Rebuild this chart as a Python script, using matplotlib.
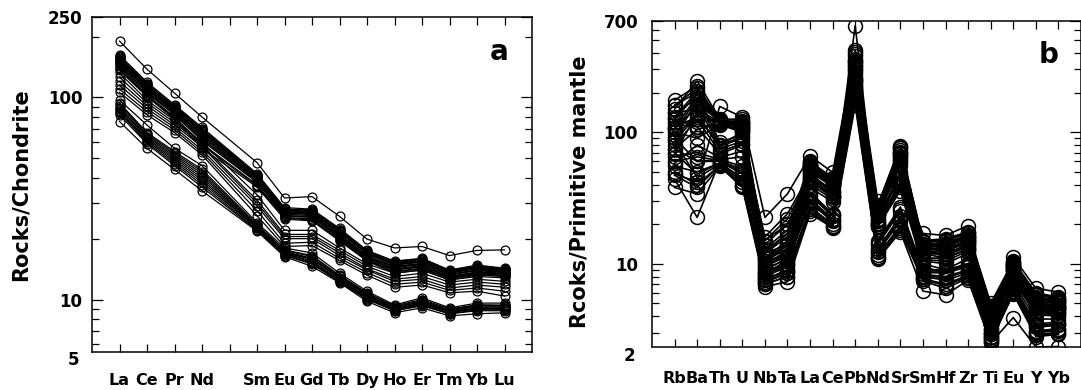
"""
REE chondrite-normalised (a) and trace element primitive-mantle-normalised (b) spider diagrams
"""
import matplotlib
matplotlib.use('Agg')
import matplotlib.pyplot as plt
from matplotlib.ticker import FixedLocator, NullFormatter, LogLocator

plt.rcParams['font.family'] = ['DejaVu Sans']
plt.rcParams['font.weight'] = 'bold'

# ---- panel a : Rocks/Chondrite ----
ree_ticks = ['La', 'Ce', 'Pr', 'Nd', '', 'Sm', 'Eu', 'Gd', 'Tb', 'Dy', 'Ho', 'Er', 'Tm', 'Yb', 'Lu']
ree_elements = ['La', 'Ce', 'Pr', 'Nd', 'Sm', 'Eu', 'Gd', 'Tb', 'Dy', 'Ho', 'Er', 'Tm', 'Yb', 'Lu']

ree_top = [
    [190, 138, 105, 80, 47.6, 31.8, 32.3, 25.8, 19.9, 18.0, 18.3, 16.5, 17.5, 17.6],
]
ree_upper = [
    [162, 119, 92, 71, 42, 28.5, 28, 22.5, 17.5, 15.5, 16, 14, 14.8, 14.3],
    [160, 117, 91, 70, 41.5, 28, 27.8, 22.2, 17.4, 15.4, 15.9, 13.9, 14.7, 14.2],
    [158, 116, 90, 70, 41, 28, 27.5, 22, 17.2, 15.2, 15.8, 13.8, 14.6, 14.2],
    [156, 115, 89, 69, 41, 27.8, 27.2, 22, 17.1, 15.1, 15.6, 13.7, 14.5, 14.1],
    [155, 114, 89, 68, 40.5, 27.5, 27, 21.8, 17, 15, 15.5, 13.6, 14.4, 14.0],
    [153, 113, 88, 68, 40.2, 27.2, 26.9, 21.6, 16.9, 14.9, 15.4, 13.5, 14.3, 13.9],
    [152, 112, 87, 67, 40, 27, 26.8, 21.5, 16.8, 14.8, 15.3, 13.5, 14.2, 13.9],
    [150, 110, 86, 66, 39.5, 27, 26.5, 21, 16.5, 14.6, 15.1, 13.3, 14.0, 13.8],
    [149, 110, 86, 65, 39.2, 26.8, 26.3, 21.2, 16.4, 14.5, 15.0, 13.3, 14.0, 13.7],
    [148, 109, 85, 64, 39, 26.5, 26, 20.8, 16.3, 14.4, 14.9, 13.2, 13.9, 13.6],
    [146, 107, 84, 63, 38.5, 26, 25.8, 20.5, 16.1, 14.2, 14.7, 13.0, 13.7, 13.5],
    [144, 106, 83, 62, 38.2, 26, 25.6, 20.4, 16.0, 14.1, 14.6, 13.0, 13.6, 13.4],
    [143, 105, 82, 61, 38, 25.8, 25.5, 20.2, 15.9, 14.0, 14.5, 12.9, 13.5, 13.4],
    [140, 103, 80, 59, 37, 25.5, 25, 20, 15.7, 13.8, 14.3, 12.8, 13.4, 13.2],
    [138, 102, 79, 58, 36.5, 25.2, 24.8, 19.8, 15.6, 13.7, 14.2, 12.7, 13.3, 13.1],
    [136, 101, 78, 56, 36, 25, 24.5, 19.5, 15.5, 13.5, 14, 12.5, 13.2, 13.0],
]
ree_middle = [
    [132, 97, 77, 60, 33, 22, 22, 18, 15, 13.5, 14, 12.5, 13, 12.8],
    [126, 94, 75, 58, 31, 21, 21, 17.5, 14.6, 13, 13.5, 12.2, 12.6, 12.3],
    [120, 91, 73, 57, 30, 20.5, 20.5, 17, 14.2, 12.6, 13, 11.8, 12.2, 11.9],
    [115, 88, 71, 55, 29, 20, 20, 16.5, 14, 12.3, 12.6, 11.4, 11.8, 11.5],
    [110, 85, 69, 53.5, 27.5, 19, 19.2, 16, 13.6, 11.9, 12.2, 11.1, 11.4, 11.0],
    [106, 82, 67, 52, 26, 18.3, 18.5, 15.6, 13.2, 11.5, 11.8, 10.8, 11.0, 10.4],
]
ree_lower = [
    [97, 73, 56, 46, 24, 18, 17, 13.5, 11, 9.4, 10.2, 9.1, 9.6, 9.6],
    [94, 67, 54, 44, 23.5, 17.6, 16.5, 13.2, 10.8, 9.3, 10.0, 9.0, 9.4, 9.4],
    [93, 66, 53, 43, 23.3, 17.5, 16.3, 13.1, 10.7, 9.2, 9.9, 8.9, 9.4, 9.3],
    [91, 65, 52, 42, 23, 17.3, 16, 13, 10.6, 9.1, 9.8, 8.8, 9.3, 9.3],
    [89, 64, 51, 41, 22.9, 17.1, 15.9, 12.8, 10.5, 9.1, 9.7, 8.8, 9.2, 9.2],
    [88, 63, 50, 40, 22.8, 17, 15.8, 12.7, 10.4, 9.0, 9.6, 8.7, 9.1, 9.1],
    [86, 62, 49, 39, 22.6, 16.9, 15.5, 12.5, 10.3, 8.9, 9.5, 8.7, 9.0, 9.0],
    [85, 61, 48, 38, 22.5, 16.8, 15.3, 12.4, 10.2, 8.9, 9.5, 8.6, 9.0, 9.0],
    [84, 60, 47, 37, 22.2, 16.6, 15.1, 12.3, 10.1, 8.8, 9.4, 8.5, 8.9, 8.9],
    [82, 59, 46, 36, 22, 16.5, 15, 12.2, 10, 8.8, 9.3, 8.5, 8.8, 8.8],
    [76, 56, 44, 34.5, 21.8, 16.3, 14.6, 12.1, 9.8, 8.6, 9.1, 8.3, 8.5, 8.6],
]

# ---- panel b : Rocks/Primitive mantle ----
pm_elements = ['Rb', 'Ba', 'Th', 'U', 'Nb', 'Ta', 'La', 'Ce', 'Pb', 'Nd',
               'Sr', 'Sm', 'Hf', 'Zr', 'Ti', 'Eu', 'Y', 'Yb']

pm_outliers = [
    [48, 42, 157, 130, 22.5, 34, 66, 49.5, 420, 30, 45, 17, 16.4, 19.5, 4.0, 11.2, 6.5, 6.1],
    [110, 130, 80, 100, 15, 20, 45, 33, 646, 20, 40, 11, 11, 13, 3.6, 7.5, 4.2, 4.2],
]
pm_upper = [
    [150, 245, 126, 125, 13, 18, 60, 45, 410, 28, 79, 15, 15.5, 17.5, 5.0, 10.5, 6.0, 5.6],
    [160, 215, 121, 122, 12.5, 17, 59, 44.5, 395, 27.5, 77, 14.8, 15.2, 17.2, 4.8, 10.4, 5.9, 5.5],
    [175, 225, 122, 120, 12, 16, 58, 44, 380, 27, 76, 14.6, 15, 17, 4.7, 10.2, 5.8, 5.4],
    [130, 205, 120, 118, 11, 14, 57, 43, 360, 26.5, 73, 14.2, 14.5, 16.5, 4.4, 10, 5.6, 5.3],
    [125, 195, 119, 117, 10.5, 13, 56.5, 43, 350, 26.2, 71, 14.1, 14.2, 16.2, 4.2, 9.9, 5.5, 5.2],
    [110, 185, 118, 115, 10, 12.5, 56, 42.5, 340, 26, 70, 14, 14, 16, 4.1, 9.8, 5.4, 5.2],
    [105, 175, 120, 113, 9.5, 11.5, 55.5, 42, 330, 25.8, 69, 13.8, 13.8, 15.8, 3.9, 9.7, 5.3, 5.1],
    [95, 165, 121, 112, 9, 11, 55, 42, 320, 25.5, 68, 13.6, 13.5, 15.5, 3.8, 9.6, 5.2, 5.0],
    [140, 150, 119, 110, 8.5, 10, 54, 41, 300, 25, 66, 13.3, 13, 15, 3.5, 9.5, 5.0, 4.9],
    [90, 140, 118, 109, 8.2, 9.8, 53.5, 40.8, 290, 24.8, 65, 13.2, 12.8, 14.8, 3.4, 9.4, 4.9, 4.8],
    [85, 135, 117, 108, 8, 9.5, 53, 40.5, 280, 24.5, 64, 13, 12.5, 14.5, 3.2, 9.3, 4.8, 4.7],
    [120, 120, 123, 105, 7.6, 9, 52, 40, 260, 24, 62, 12.6, 12, 14, 3.0, 9.1, 4.6, 4.6],
    [115, 110, 115, 104, 7.5, 8.8, 51.5, 39.5, 250, 23.8, 60, 12.5, 11.8, 13.8, 2.9, 9.0, 4.5, 4.5],
    [75, 105, 116, 102, 7.3, 8.5, 51, 39, 240, 23.5, 58, 12.3, 11.5, 13.5, 2.8, 9.0, 4.4, 4.4],
    [100, 90, 114, 100, 7, 8, 50, 38.5, 220, 23, 55, 12, 11, 13, 2.7, 8.8, 4.2, 4.3],
]
pm_middle = [
    [160, 200, 84, 95, 16, 24, 48, 36, 350, 22, 50, 12, 14, 16, 4.8, 8.5, 5.0, 4.8],
    [140, 180, 80, 92, 15, 22, 47, 35, 320, 21.5, 48, 11.8, 13, 15, 4.5, 8.4, 4.9, 4.6],
    [105, 160, 78, 90, 14, 20, 46, 34.5, 300, 21, 46, 11.5, 12.5, 14.5, 4.3, 8.2, 4.7, 4.5],
    [68, 140, 75, 85, 12, 17, 44, 33, 270, 20.5, 42, 11, 11, 13, 3.9, 7.9, 4.4, 4.3],
    [80, 125, 71, 82, 11, 15, 43, 32.5, 260, 20.2, 41, 10.7, 10.5, 12.5, 3.7, 7.7, 4.2, 4.1],
    [125, 110, 68, 80, 10.5, 14, 42, 32, 250, 20, 40, 10.5, 10, 12, 3.5, 7.6, 4.1, 4.0],
    [58, 80, 64, 72, 9.5, 12, 40, 31, 230, 19.5, 38, 10, 9, 11, 3.1, 7.2, 3.8, 3.8],
    [90, 60, 62, 65, 8.5, 10.5, 38, 29.5, 210, 19, 36, 9.5, 8.5, 10, 2.8, 6.9, 3.5, 3.6],
]
pm_lower = [
    [65, 70, 62, 55, 12, 14, 35, 24, 250, 15, 27, 9, 9, 10, 3.5, 6.6, 3.4, 3.5],
    [60, 65, 61, 52, 11, 13, 34, 23.5, 240, 14.5, 26, 8.8, 8.8, 9.8, 3.4, 6.5, 3.35, 3.45],
    [75, 60, 60, 50, 10, 12, 33, 23, 230, 14, 25, 8.6, 8.5, 9.5, 3.2, 6.4, 3.3, 3.4],
    [55, 50, 58, 45, 9, 11, 31, 22, 215, 13, 23, 8.3, 8, 9, 3.0, 6.2, 3.1, 3.2],
    [70, 48, 58, 44, 8.5, 10.5, 30, 21.5, 205, 12.6, 22, 8.1, 7.8, 8.8, 2.9, 6.15, 3.05, 3.15],
    [85, 45, 57, 42, 8, 10, 29, 21, 200, 12.3, 21, 8, 7.5, 8.5, 2.8, 6.1, 3.0, 3.1],
    [47, 38, 56, 40, 7.5, 9, 27, 20, 185, 11.6, 19.5, 7.7, 7, 8.2, 2.65, 6.0, 2.9, 3.0],
    [50, 40, 56, 39, 7.2, 8.5, 26, 19.5, 178, 11.3, 18.8, 7.6, 6.8, 8.0, 2.6, 5.95, 2.85, 2.95],
    [38, 34, 55, 38, 7, 8, 25, 19, 170, 11, 18, 7.4, 6.5, 7.8, 2.55, 5.9, 2.8, 2.9],
    [44, 22.5, 60, 48, 6.7, 7.3, 24, 18.8, 160, 10.8, 17.5, 6.2, 5.8, 7.5, 2.5, 3.9, 2.33, 2.35],
]

W, H = 1081, 390
fig = plt.figure(figsize=(W / 100, H / 100), dpi=100)

# axes boxes in pixels: left, top, right, bottom
ax1 = fig.add_axes([92 / W, 1 - 352 / H, (532 - 92) / W, (352 - 17) / H])
ax2 = fig.add_axes([652 / W, 1 - 347 / H, (1081 - 652) / W, (347 - 21) / H])


def style_axis(ax, ymin, ymax, major, labels, low_label, xlabels, ylabel, tag,
               lab_pad, x_pad):
    ax.set_yscale('log')
    ax.set_ylim(ymin, ymax)
    ax.yaxis.set_major_locator(FixedLocator(major))
    ax.set_yticklabels(labels)
    ax.yaxis.set_minor_locator(LogLocator(base=10, subs=(2, 3, 4, 5, 6, 7, 8, 9)))
    ax.yaxis.set_minor_formatter(NullFormatter())
    ax.set_xlim(0, len(xlabels) + 1)
    ax.set_xticks(range(1, len(xlabels) + 1))
    ax.set_xticklabels(xlabels)
    ax.tick_params(axis='both', which='both', direction='in', top=True, right=True,
                   width=0.9)
    ax.tick_params(axis='x', length=6, pad=x_pad, labelsize=11.5)
    ax.tick_params(axis='y', which='major', length=8, pad=lab_pad, labelsize=12)
    ax.tick_params(axis='y', which='minor', length=5)
    for s in ax.spines.values():
        s.set_linewidth(1.1)
    # the low bound label sits at its true value, just under the frame
    ax.annotate(low_label[0], xy=(0, low_label[1]), xycoords=('axes fraction', 'data'),
                xytext=(-lab_pad - 2, 0), textcoords='offset points',
                ha='right', va='center', fontsize=12, fontweight='bold',
                annotation_clip=False)
    ax.set_ylabel(ylabel, fontsize=15, fontweight='bold')
    ax.text(0.925, 0.895, tag, transform=ax.transAxes, fontsize=20,
            fontweight='bold', ha='center', va='center')


# panel a
ree_x = [1, 2, 3, 4, 6, 7, 8, 9, 10, 11, 12, 13, 14, 15]
for group in (ree_top, ree_upper, ree_middle, ree_lower):
    for sample in group:
        ax1.plot(ree_x, sample, color='k', lw=0.9, marker='o', ms=6.4,
                 mfc='none', mec='k', mew=0.9)
style_axis(ax1, 5.5, 250, [10, 100, 250], ['10', '100', '250'], ('5', 5),
           ree_ticks, 'Rocks/Chondrite', 'a', 7, 15)
ax1.yaxis.set_label_coords(-0.14, 0.5)

# panel b
pm_x = list(range(1, len(pm_elements) + 1))
for group in (pm_outliers, pm_upper, pm_middle, pm_lower):
    for sample in group:
        ax2.plot(pm_x, sample, color='k', lw=1.2, marker='o', ms=10,
                 mfc='none', mec='k', mew=1.1)
style_axis(ax2, 2.33, 700, [10, 100, 700], ['10', '100', '700'], ('2', 2),
           pm_elements, 'Rcoks/Primitive mantle', 'b', 10, 17)
ax2.yaxis.set_label_coords(-0.145, 0.475)

fig.savefig('out.png', dpi=100, facecolor='white')
